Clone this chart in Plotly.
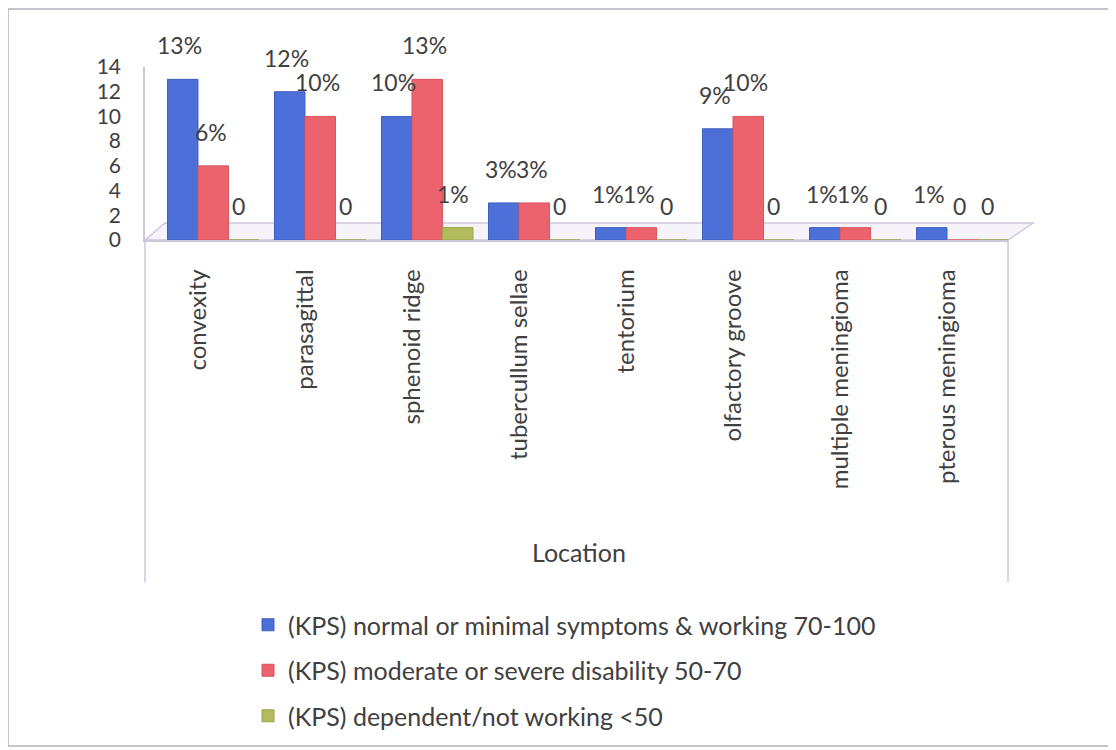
import plotly.graph_objects as go

categories = ["convexity", "parasagittal", "sphenoid ridge", "tubercullum sellae",
              "tentorium", "olfactory groove", "multiple meningioma", "pterous meningioma"]
kps_normal = [13, 12, 10, 3, 1, 9, 1, 1]
kps_moderate = [6, 10, 13, 3, 1, 10, 1, 0]
kps_dependent = [0, 0, 1, 0, 0, 0, 0, 0]
series_names = ["(KPS) normal or minimal symptoms & working 70-100",
                "(KPS) moderate or severe disability 50-70",
                "(KPS) dependent/not working <50"]
y_ticks = [0, 2, 4, 6, 8, 10, 12, 14]

colors = ["#4d70d8", "#ec636d", "#b3bb5c"]
line_colors = ["#3d5fc0", "#d85560", "#9aa24a"]
FONT = "Lato, 'Open Sans', sans-serif"
TXT = "#404040"
FRAME = "#cfc6dc"

OFF = 8                      # page body margin
W, H = 1116 - OFF, 750 - OFF  # figure size
# plot area in page pixels
L, R = 145, 1008
T, B = 67, 240

def fx(p):  # page x -> figure x
    return p - OFF
def fy(p):
    return p - OFF

pw, ph = R - L, B - T
def px(xp):
    return (xp - L) / pw
def py(yp):
    return (B - yp) / ph

def lab(v):
    return f"{v}%" if v else "0"

fig = go.Figure()
bw = 0.285
offsets = [-0.29, -0.005, 0.28]
label_shift = [-19, 12, 40]   # px, label centre relative to category centre
series = [kps_normal, kps_moderate, kps_dependent]
annotations = []
for i, (vals, name) in enumerate(zip(series, series_names)):
    fig.add_trace(go.Bar(
        x=categories, y=vals, name=name,
        width=bw, offset=offsets[i],
        marker=dict(color=colors[i], line=dict(color=line_colors[i], width=1)),
        cliponaxis=False, legendgroup=f"g{i}",
    ))
    for c, v in zip(categories, vals):
        annotations.append(dict(
            x=c, y=v, xref="x", yref="y", text=lab(v), showarrow=False,
            xshift=label_shift[i], yshift=34, xanchor="center", yanchor="middle",
            font=dict(family=FONT, size=23, color=TXT)))

annotations.append(dict(text="Location", xref="paper", yref="paper", x=px(579), y=py(552),
                        showarrow=False, xanchor="center", yanchor="middle",
                        font=dict(family=FONT, size=25, color=TXT)))

shapes = [
    # outer border
    dict(type="rect", xref="paper", yref="paper", x0=px(8), x1=px(1110), y0=py(746), y1=py(9),
         line=dict(color="#b8b0c0", width=1.5), fillcolor="rgba(0,0,0,0)", layer="below"),
    # left & right vertical frame below the floor
    dict(type="line", xref="paper", yref="paper", x0=0, x1=0, y0=0, y1=py(582),
         line=dict(color=FRAME, width=1.5)),
    dict(type="line", xref="paper", yref="paper", x0=1, x1=1, y0=0, y1=py(582),
         line=dict(color=FRAME, width=1.5)),
    # floor in perspective
    dict(type="path", xref="paper", yref="paper",
         path=f"M 0 0 L {px(165)} {py(223)} L {px(1033)} {py(223)} L 1 0 Z",
         line=dict(color=FRAME, width=1.5), fillcolor="rgba(242,240,248,0.7)", layer="below"),
]

fig.update_layout(
    width=W, height=H,
    margin=dict(l=fx(L), r=W - fx(R), t=fy(T), b=H - fy(B), autoexpand=False),
    paper_bgcolor="white", plot_bgcolor="rgba(0,0,0,0)",
    font=dict(family=FONT, size=18, color=TXT),
    showlegend=True,
    legend=dict(xref="container", yref="container",
                x=fx(248) / W, y=1 - fy(602) / H, xanchor="left", yanchor="top",
                font=dict(family=FONT, size=25, color=TXT),
                tracegroupgap=10, bgcolor="rgba(0,0,0,0)",
                itemwidth=30),
    shapes=shapes,
    annotations=annotations,
)
fig.update_yaxes(range=[0, 14], tickvals=y_ticks, showgrid=False, zeroline=False,
                 showline=True, linecolor=FRAME, linewidth=1.5,
                 tickfont=dict(family=FONT, size=21, color=TXT), ticks="", ticklabelstandoff=18)
fig.update_xaxes(showgrid=False, showline=True, linecolor=FRAME, linewidth=1.5,
                 tickangle=-90, tickfont=dict(family=FONT, size=24, color=TXT),
                 ticks="", ticklabelstandoff=18, automargin=False)

fig.write_html("out.html")
